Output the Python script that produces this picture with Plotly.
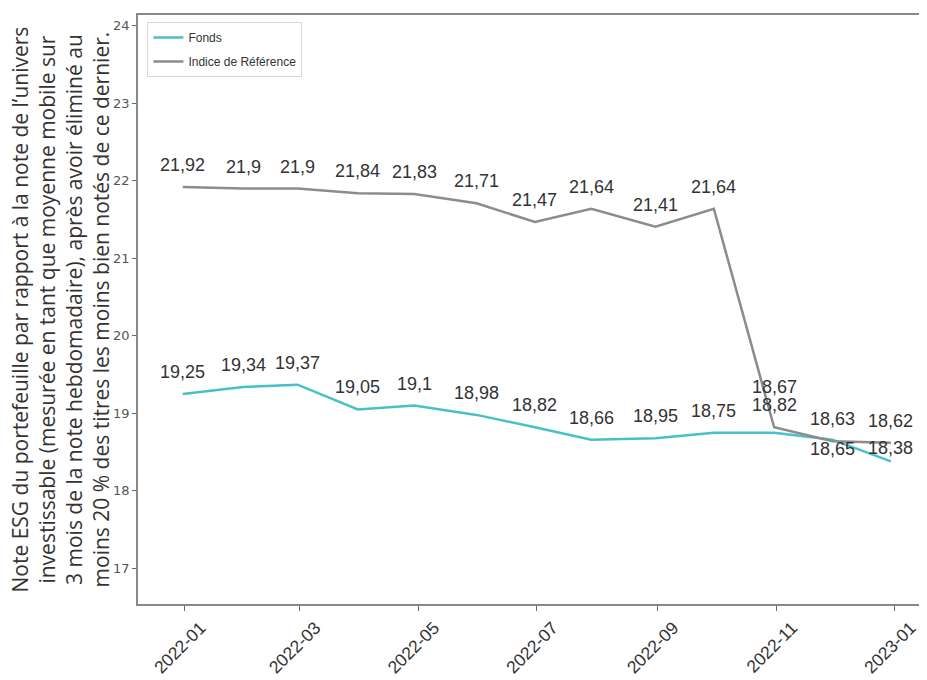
import plotly.graph_objects as go

# ---------------- data ----------------
dates = ["2021-12-31", "2022-01-31", "2022-02-28", "2022-03-31", "2022-04-29",
         "2022-05-31", "2022-06-30", "2022-07-29", "2022-08-31", "2022-09-30",
         "2022-10-31", "2022-11-30", "2022-12-30"]

fonds = [19.25, 19.34, 19.37, 19.05, 19.10, 18.98, 18.82, 18.66, 18.68, 18.75,
         18.75, 18.66, 18.38]
fonds_labels = ["19,25", "19,34", "19,37", "19,05", "19,1", "18,98", "18,82",
                "18,66", "18,95", "18,75", "18,67", "18,65", "18,38"]

indice = [21.92, 21.90, 21.90, 21.84, 21.83, 21.71, 21.47, 21.64, 21.41, 21.64,
          18.82, 18.64, 18.62]
indice_labels = ["21,92", "21,9", "21,9", "21,84", "21,83", "21,71", "21,47",
                 "21,64", "21,41", "21,64", "18,82", "18,63", "18,62"]

y_ticks = [17, 18, 19, 20, 21, 22, 23, 24]
x_ticks = ["2022-01-01", "2022-03-01", "2022-05-01", "2022-07-01",
           "2022-09-01", "2022-11-01", "2023-01-01"]
x_ticklabels = ["2022-01", "2022-03", "2022-05", "2022-07",
                "2022-09", "2022-11", "2023-01"]

y_title = ("Note ESG du portefeuille par rapport à la note de l’univers<br>"
           "investissable (mesurée en tant que moyenne mobile sur<br>"
           "3 mois de la note hebdomadaire), après avoir éliminé au<br>"
           "moins 20 % des titres les moins bien notés de ce dernier.")

# ---------------- style ----------------
C_FONDS = "#47c1c8"
C_INDICE = "#8c8c8c"
LABEL_SHIFT = 22
fonds_shift_override = {10: 46, 11: -9, 12: 13}

fig = go.Figure()
fig.add_trace(go.Scatter(x=dates, y=fonds, mode="lines", name="Fonds",
                         line=dict(color=C_FONDS, width=2.5), legendgroup="a"))
fig.add_trace(go.Scatter(x=dates, y=indice, mode="lines", name="Indice de Référence",
                         line=dict(color=C_INDICE, width=2.5), legendgroup="b"))

ann_font = dict(family="Liberation Sans, Arial, sans-serif", size=18, color="#333333")
for i, (d, v, t) in enumerate(zip(dates, indice, indice_labels)):
    fig.add_annotation(x=d, y=v, text=t, showarrow=False, yshift=LABEL_SHIFT,
                       font=ann_font)
for i, (d, v, t) in enumerate(zip(dates, fonds, fonds_labels)):
    fig.add_annotation(x=d, y=v, text=t, showarrow=False,
                       yshift=fonds_shift_override.get(i, LABEL_SHIFT), font=ann_font)

# y-axis title as a rotated annotation
fig.add_annotation(xref="paper", yref="paper", x=0, y=0.5, xanchor="center",
                   yanchor="middle", xshift=-78, text=y_title, textangle=-90,
                   showarrow=False, align="center",
                   font=dict(family="Open Sans, sans-serif", size=21, color="#333"))

fig.update_layout(
    width=919, height=672,
    margin=dict(l=130, r=5, t=7, b=76, autoexpand=False),
    paper_bgcolor="white", plot_bgcolor="white",
    showlegend=True,
    legend=dict(x=0.012, y=0.988, xanchor="left", yanchor="top",
                bgcolor="white", bordercolor="#d9d9d9", borderwidth=1,
                font=dict(family="Liberation Sans, Arial, sans-serif", size=12, color="#333"),
                tracegroupgap=5, traceorder="grouped"),
)
fig.update_xaxes(
    type="date", range=["2021-12-08", "2023-01-15"], automargin=False,
    tickmode="array", tickvals=x_ticks, ticktext=x_ticklabels,
    tickangle=-45, ticks="outside", ticklen=5, tickcolor="#666",
    tickfont=dict(family="Liberation Sans, Arial, sans-serif", size=17.5, color="#333"),
    ticklabelshift=16,
    showgrid=False, zeroline=False,
    showline=True, linecolor="#888", linewidth=1.5, mirror=True,
)
fig.update_yaxes(
    range=[16.54, 24.14], automargin=False,
    tickmode="array", tickvals=y_ticks,
    ticks="outside", ticklen=4, tickcolor="#666",
    tickfont=dict(family="DejaVu Sans, sans-serif", size=13, color="#555"),
    showgrid=False, zeroline=False,
    showline=True, linecolor="#888", linewidth=1.5, mirror=True,
)

fig.write_html("out.html")
